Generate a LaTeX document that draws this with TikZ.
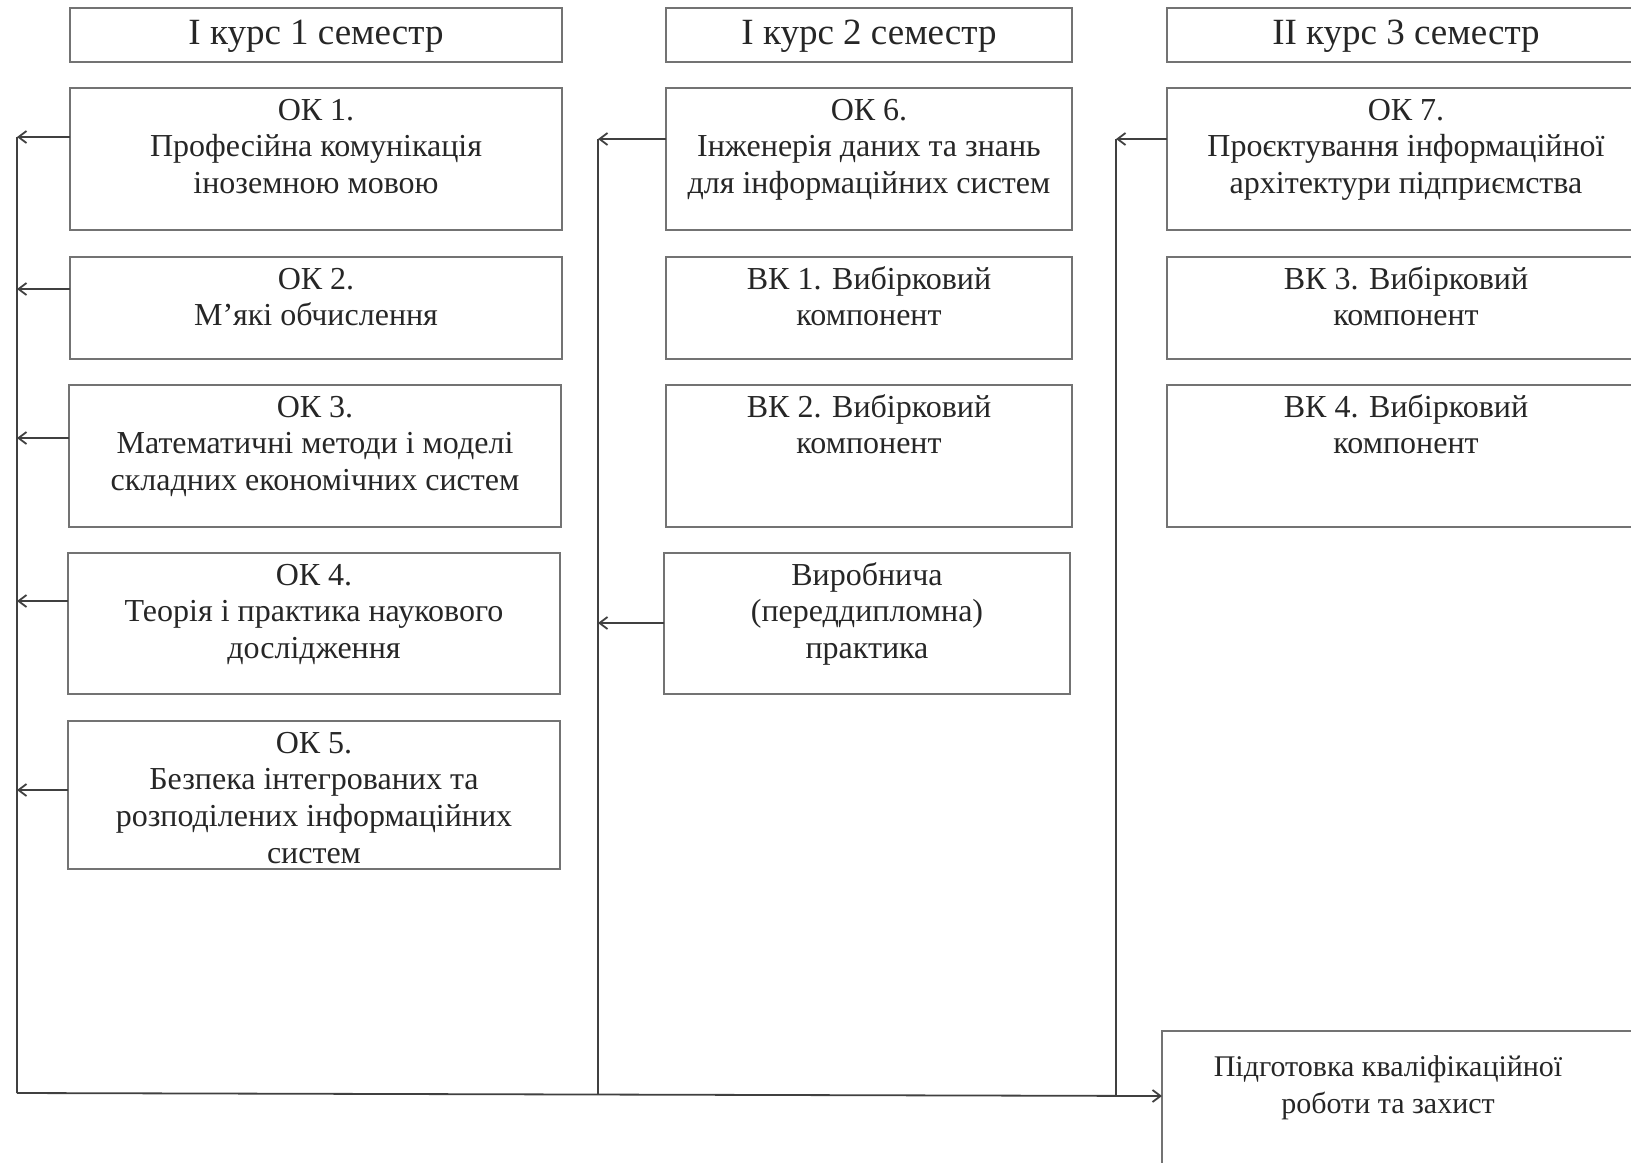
\documentclass[tikz,border=0pt]{standalone}
\usepackage{fontspec}
\setmainfont{Liberation Serif}
\usetikzlibrary{arrows.meta}
\begin{document}
\begin{tikzpicture}[x=0.5pt,y=-0.5pt,
  box/.style={draw=black!55, line width=0.7pt, inner sep=0pt, outer sep=0pt, anchor=north west},
  txt/.style={anchor=north, inner sep=0pt, align=center, font=\fontsize{16}{18.4}\selectfont, text=black!85},
  hdr/.style={anchor=base, inner sep=0pt, font=\fontsize{18.5}{21}\selectfont, text=black!85},
  bus/.style={draw=black!75, line width=0.9pt},
  arr/.style={bus, -{Straight Barb[length=4pt,width=6pt]}}]
\useasboundingbox (0,0) rectangle (1631,1162);
\clip (0,0) rectangle (1631,1162);
% column 1
\node[box, minimum width=246pt, minimum height=27pt] (h1) at (70,8) {};
\node[box, minimum width=246pt, minimum height=71pt] (ok1) at (70,88) {};
\node[box, minimum width=246pt, minimum height=51pt] (ok2) at (70,257) {};
\node[box, minimum width=246pt, minimum height=71pt] (ok3) at (69,385) {};
\node[box, minimum width=246pt, minimum height=70.5pt] (ok4) at (68,553) {};
\node[box, minimum width=246pt, minimum height=74pt] (ok5) at (68,721) {};
% column 2
\node[box, minimum width=203pt, minimum height=27pt] (h2) at (666,8) {};
\node[box, minimum width=203pt, minimum height=71pt] (ok6) at (666,88) {};
\node[box, minimum width=203pt, minimum height=51pt] (vk1) at (666,257) {};
\node[box, minimum width=203pt, minimum height=71pt] (vk2) at (666,385) {};
\node[box, minimum width=203pt, minimum height=70.5pt] (pr) at (664,553) {};
% column 3
\node[box, minimum width=239pt, minimum height=27pt] (h3) at (1167,8) {};
\node[box, minimum width=239pt, minimum height=71pt] (ok7) at (1167,88) {};
\node[box, minimum width=239pt, minimum height=51pt] (vk3) at (1167,257) {};
\node[box, minimum width=239pt, minimum height=71pt] (vk4) at (1167,385) {};
\node[box, minimum width=249pt, minimum height=74.5pt] (fin) at (1162,1031) {};
% texts
\node[hdr] (th1) at (h1.north |- 0,44) {I курс 1 семестр};
\node[hdr] (th2) at (h2.north |- 0,44) {I курс 2 семестр};
\node[hdr] (th3) at (h3.north |- 0,44) {II курс 3 семестр};
\node[txt] (tok1) at ([yshift=-3pt]ok1.north) {\strut ОК 1.\\Професійна комунікація\\іноземною мовою};
\node[txt] (tok2) at ([yshift=-3pt]ok2.north) {\strut ОК 2.\\М’які обчислення};
\node[txt] (tok3) at ([yshift=-3pt]ok3.north) {\strut ОК 3.\\Математичні методи і моделі\\складних економічних систем};
\node[txt] (tok4) at ([yshift=-3pt]ok4.north) {\strut ОК 4.\\Теорія і практика наукового\\дослідження};
\node[txt] (tok5) at ([yshift=-3pt]ok5.north) {\strut ОК 5.\\Безпека інтегрованих та\\розподілених інформаційних\\систем};
\node[txt] (tok6) at ([yshift=-3pt]ok6.north) {\strut ОК 6.\\Інженерія даних та знань\\для інформаційних систем};
\node[txt] (tvk1) at ([yshift=-3pt]vk1.north) {\strut ВК 1. Вибірковий\\компонент};
\node[txt] (tvk2) at ([yshift=-3pt]vk2.north) {\strut ВК 2. Вибірковий\\компонент};
\node[txt] (tpr) at ([yshift=-3pt]pr.north) {\strut Виробнича\\(переддипломна)\\практика};
\node[txt] (tok7) at ([yshift=-3pt]ok7.north) {\strut ОК 7.\\Проєктування інформаційної\\архітектури підприємства};
\node[txt] (tvk3) at ([yshift=-3pt]vk3.north) {\strut ВК 3. Вибірковий\\компонент};
\node[txt] (tvk4) at ([yshift=-3pt]vk4.north) {\strut ВК 4. Вибірковий\\компонент};
\node[txt, font=\fontsize{15}{18.2}\selectfont] (tfin) at ([xshift=113pt, yshift=-10pt]fin.north west) {\strut Підготовка кваліфікаційної\\роботи та захист};
% bus coordinates
\coordinate (a1) at (17,137);
\coordinate (a2) at (17,289);
\coordinate (a3) at (17,438);
\coordinate (a4) at (17,601);
\coordinate (a5) at (17,790);
\coordinate (ab) at (17,1093);
\coordinate (b1) at (598,139);
\coordinate (b2) at (598,623);
\coordinate (bb) at (598,1094);
\coordinate (c1) at (1116,139);
\coordinate (cb) at (1116,1096);
% buses
\draw[bus] (a1) -- (ab);
\draw[bus] (b1) -- (bb);
\draw[bus] (c1) -- (cb);
\draw[arr] (ab) -- ([yshift=-1.5pt]fin.west |- ab);
% arrows into buses
\draw[arr] (ok1.west |- a1) -- (a1);
\draw[arr] (ok2.west |- a2) -- (a2);
\draw[arr] (ok3.west |- a3) -- (a3);
\draw[arr] (ok4.west |- a4) -- (a4);
\draw[arr] (ok5.west |- a5) -- (a5);
\draw[arr] (ok6.west |- b1) -- (b1);
\draw[arr] (pr.west |- b2) -- (b2);
\draw[arr] (ok7.west |- c1) -- (c1);
\end{tikzpicture}
\end{document}
